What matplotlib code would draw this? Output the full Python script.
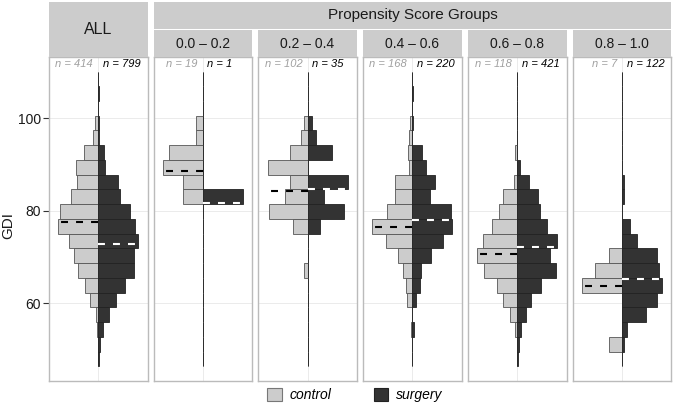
import numpy as np
import matplotlib
matplotlib.use('Agg')
import matplotlib.pyplot as plt
from matplotlib.patches import Patch

plt.rcParams['font.family'] = ['Liberation Sans', 'DejaVu Sans']
plt.rcParams['lines.scale_dashes'] = False

# histogram bins of GDI (20 bins)
bin_start = 46.35
bin_width = 3.19
n_bins = 20

groups = ['0.0 \u2013 0.2', '0.2 \u2013 0.4', '0.4 \u2013 0.6', '0.6 \u2013 0.8', '0.8 \u2013 1.0']

# counts per bin, lowest bin first
control_counts = [
    [0, 0, 0, 0, 0, 0, 0, 0, 0, 0, 0, 3, 3, 6, 5, 1, 1, 0, 0, 0],
    [0, 0, 0, 0, 0, 0, 2, 0, 0, 9, 24, 14, 11, 25, 11, 4, 2, 0, 0, 0],
    [0, 0, 1, 0, 5, 6, 9, 14, 25, 38, 24, 17, 17, 3, 4, 3, 2, 0, 0, 0],
    [0, 0, 1, 4, 8, 11, 18, 22, 19, 14, 10, 8, 2, 0, 1, 0, 0, 0, 0, 0],
    [0, 1, 0, 0, 0, 3, 2, 1, 0, 0, 0, 0, 0, 0, 0, 0, 0, 0, 0, 0],
]
surgery_counts = [
    [0, 0, 0, 0, 0, 0, 0, 0, 0, 0, 0, 1, 0, 0, 0, 0, 0, 0, 0, 0],
    [0, 0, 0, 0, 0, 0, 0, 0, 0, 3, 9, 4, 10, 0, 6, 2, 1, 0, 0, 0],
    [0, 0, 2, 0, 4, 8, 9, 19, 31, 41, 39, 18, 23, 14, 10, 0, 1, 0, 1, 0],
    [1, 3, 7, 15, 23, 39, 65, 55, 67, 49, 38, 35, 19, 5, 0, 0, 0, 0, 0, 0],
    [0, 1, 3, 14, 21, 24, 22, 21, 9, 5, 0, 1, 1, 0, 0, 0, 0, 0, 0, 0],
]
control_mean = [88.6, 84.3, 76.6, 70.7, 63.8]
surgery_mean = [81.7, 84.7, 78.1, 72.1, 65.2]
all_control_mean = 77.6
all_surgery_mean = 72.9

W, H = 675, 405
fig = plt.figure(figsize=(W / 100, H / 100), dpi=100)


def px(x0, y0, x1, y1):
    return [x0 / W, 1 - y1 / H, (x1 - x0) / W, (y1 - y0) / H]


def strip(x0, y0, x1, y1, text, size):
    a = fig.add_axes(px(x0, y0, x1, y1))
    a.set_facecolor('#CCCCCC')
    for s in a.spines.values():
        s.set_visible(False)
    a.set_xticks([])
    a.set_yticks([])
    a.text(0.5, 0.5, text, ha='center', va='center', fontsize=size,
           color='#1a1a1a', transform=a.transAxes)


def panel(ax, cc, sc, cm, sm):
    edges = bin_start + bin_width * np.arange(n_bins)
    cc = np.array(cc, dtype=float)
    sc = np.array(sc, dtype=float)
    for v in [60, 80, 100]:
        ax.axhline(v, color='#EBEBEB', lw=0.7, zorder=0)
    ax.axvline(0, color='#EBEBEB', lw=0.7, zorder=0)
    ax.barh(edges, -cc / cc.max(), height=bin_width, align='edge',
            color='#CCCCCC', edgecolor='#555555', lw=0.6, zorder=2)
    ax.barh(edges, sc / sc.max(), height=bin_width, align='edge',
            color='#333333', edgecolor='#222222', lw=0.6, zorder=2)
    ax.plot([0, -1.1], [cm, cm], color='black', lw=1.5,
            ls=(0, (5, 5.8)), zorder=3, dash_capstyle='butt')
    ax.plot([0, 1.1], [sm, sm], color='white', lw=1.5,
            ls=(0, (5, 5.8)), zorder=3, dash_capstyle='butt')
    ax.text(-0.13, 111.7, 'n = %d' % cc.sum(), ha='right', va='center',
            style='italic', color='#A0A0A0', fontsize=8)
    ax.text(0.11, 111.7, 'n = %d' % sc.sum(), ha='left', va='center',
            style='italic', color='black', fontsize=8)
    ax.set_xlim(-1.23, 1.23)
    ax.set_ylim(43.16, 113.3)
    ax.set_xticks([])
    for s in ax.spines.values():
        s.set_color('#BBBBBB')
        s.set_linewidth(1.0)


lefts = [49, 153.5, 258.3, 363.2, 468, 572.9]
pw = 98.5
top, bottom = 57, 381

# ALL panel
ax_all = fig.add_axes(px(lefts[0], top, lefts[0] + pw, bottom))
panel(ax_all, np.sum(control_counts, axis=0), np.sum(surgery_counts, axis=0),
      all_control_mean, all_surgery_mean)
ax_all.set_yticks([60, 80, 100])
ax_all.tick_params(axis='y', length=4, width=0.8, color='#333333',
                   labelsize=10, labelcolor='#1a1a1a', pad=2)
ax_all.set_ylabel('GDI', fontsize=11, color='#1a1a1a')
ax_all.yaxis.set_label_coords((15 - lefts[0]) / pw, 0.48)
strip(lefts[0], 2, lefts[0] + pw, top, 'ALL', 11.5)

strip(lefts[1], 2, lefts[-1] + pw, 28.5, 'Propensity Score Groups', 11)
for i, g in enumerate(groups):
    x0 = lefts[i + 1]
    ax = fig.add_axes(px(x0, top, x0 + pw, bottom))
    panel(ax, control_counts[i], surgery_counts[i], control_mean[i], surgery_mean[i])
    ax.set_yticks([])
    strip(x0, 30, x0 + pw, top, g, 10)

handles = [Patch(facecolor='#CCCCCC', edgecolor='#777777', lw=0.8, label='control'),
           Patch(facecolor='#333333', edgecolor='#222222', lw=0.8, label='surgery')]
fig.legend(handles=handles, loc='center', bbox_to_anchor=(355 / W, 1 - 395 / H),
           ncol=2, frameon=False, prop={'style': 'italic', 'size': 10},
           handlelength=1.05, handleheight=1.05, handletextpad=0.6,
           columnspacing=3.0, borderpad=0)

fig.savefig('out.png', dpi=100)
